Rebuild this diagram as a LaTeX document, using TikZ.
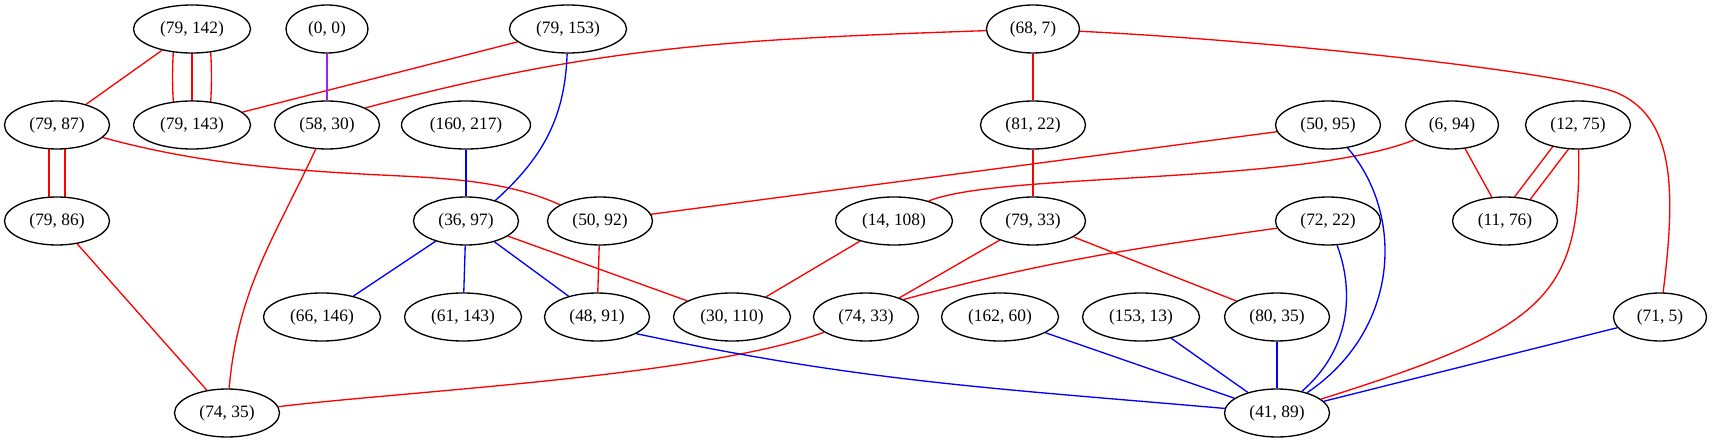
\documentclass[tikz,border=0pt]{standalone}
\usepackage{fontspec}
\setmainfont{Liberation Serif}
\usetikzlibrary{shapes.geometric,backgrounds}
\definecolor{gvpurple}{HTML}{A020F0}
\begin{document}
\begin{tikzpicture}[x=1pt,y=1pt,
  nd/.style={ellipse,draw,line width=1.33pt,fill=white,minimum height=48pt,inner sep=0pt,font=\fontsize{17.4}{20}\selectfont},
  wsix/.style={nd,minimum width=82pt},
  wseven/.style={nd,minimum width=93pt},
  weight/.style={nd,minimum width=105pt},
  wnine/.style={nd,minimum width=117pt},
  wten/.style={nd,minimum width=129pt},
  re/.style={draw=red,line width=1.33pt},
  be/.style={draw=blue,line width=1.33pt},
  pe/.style={draw=gvpurple,line width=1.33pt}]
\useasboundingbox (0,0) rectangle (1713,-443);
% rank 0
\node[wnine]  (a79142) at (192,-29) {(79, 142)};
\node[wsix]   (a00)    at (327,-29) {(0, 0)};
\node[wnine]  (a79153) at (568,-29) {(79, 153)};
\node[wseven] (a687)   at (1033,-29) {(68, 7)};
% rank 1
\node[weight] (a7987)   at (57,-125) {(79, 87)};
\node[wnine]  (a79143)  at (192,-125) {(79, 143)};
\node[weight] (a5830)   at (327,-125) {(58, 30)};
\node[wten]   (a160217) at (466,-125) {(160, 217)};
\node[weight] (a8122)   at (1033,-125) {(81, 22)};
\node[weight] (a5095)   at (1328,-125) {(50, 95)};
\node[wseven] (a694)    at (1452,-125) {(6, 94)};
\node[weight] (a1275)   at (1578,-125) {(12, 75)};
% rank 2
\node[weight] (a7986)  at (57,-221) {(79, 86)};
\node[weight] (a3697)  at (466,-221) {(36, 97)};
\node[weight] (a5092)  at (600,-221) {(50, 92)};
\node[wnine]  (a14108) at (894,-221) {(14, 108)};
\node[weight] (a7933)  at (1033,-221) {(79, 33)};
\node[weight] (a7222)  at (1328,-221) {(72, 22)};
\node[weight] (a1176)  at (1505,-221) {(11, 76)};
% rank 3
\node[wnine]  (a66146) at (322,-317) {(66, 146)};
\node[wnine]  (a61143) at (463,-317) {(61, 143)};
\node[weight] (a4891)  at (597,-317) {(48, 91)};
\node[wnine]  (a30110) at (732,-317) {(30, 110)};
\node[weight] (a7433)  at (866,-317) {(74, 33)};
\node[wnine]  (a16260) at (1000,-317) {(162, 60)};
\node[wnine]  (a15313) at (1141,-317) {(153, 13)};
\node[weight] (a8035)  at (1277,-317) {(80, 35)};
\node[wseven] (a715)   at (1660,-317) {(71, 5)};
% rank 4
\node[weight] (a7435) at (227,-413) {(74, 35)};
\node[weight] (a4189) at (1277,-413) {(41, 89)};

\begin{scope}[on background layer]
% red edges
\draw[re] (a79142) -- (a7987);
\draw[re] (a79142.center) -- (a79143.center);
\draw[re] ([xshift=-17]a79142.center) to[bend right=5] ([xshift=-17]a79143.center);
\draw[re] ([xshift=17]a79142.center) to[bend left=5] ([xshift=17]a79143.center);
\draw[re] (a79153) -- (a79143);
\draw[re] (a687.182) to[out=182,in=15] (a5830.24);
\draw[re] (a687) -- (a8122);
\draw[re] (a687) .. controls (1280,-41) and (1559,-72) .. (1615,-92)
                 .. controls (1675,-116) and (1676,-190) .. (a715);
\draw[re] ([xshift=-8]a7987.center) -- ([xshift=-8]a7986.center);
\draw[re] ([xshift=8]a7987.center) -- ([xshift=8]a7986.center);
\draw[re] (a7987) .. controls (196,-163) and (281,-170) .. (381,-175)
                  .. controls (441,-178) and (506,-180) .. (a5092.158);
\draw[re] (a5830) to[out=-115,in=85] (a7435);
\draw[re] (a8122) -- (a7933);
\draw[re] (a5095) -- (a5092);
\draw[re] (a694) .. controls (1300,-185) and (1000,-172) .. (a14108.30);
\draw[re] (a694) -- (a1176);
\draw[re] ([shift={(5.6,-4.2)}]a1275.center) -- ([shift={(5.6,-4.2)}]a1176.center);
\draw[re] ([shift={(-5.6,4.2)}]a1275.center) -- ([shift={(-5.6,4.2)}]a1176.center);
\draw[re] (a1275) .. controls (1582,-300) and (1540,-330) .. (a4189);
\draw[re] (a7986) -- (a7435);
\draw[re] (a3697) -- (a30110);
\draw[re] (a5092) -- (a4891);
\draw[re] (a14108) -- (a30110);
\draw[re] (a7933) -- (a7433);
\draw[re] (a7933) -- (a8035);
\draw[re] (a7222) to[out=188,in=15] (a7433.25);
\draw[re] (a7433) to[out=200,in=7,looseness=0.6] (a7435);
% blue edges
\draw[be] (a79153) to[out=-92,in=42] (a3697.35);
\draw[be] (a160217) -- (a3697);
\draw[be] (a5095) .. controls (1405,-215) and (1400,-330) .. (a4189);
\draw[be] (a3697) -- (a66146);
\draw[be] (a3697) -- (a61143);
\draw[be] (a3697) -- (a4891);
\draw[be] (a7222) .. controls (1352,-285) and (1355,-345) .. (a4189);
\draw[be] (a4891.-23) to[out=-12,in=175] (a4189);
\draw[be] (a16260) -- (a4189);
\draw[be] (a15313) -- (a4189);
\draw[be] (a8035) -- (a4189);
\draw[be] (a715) -- (a4189);
% purple edge
\draw[pe] (a00) -- (a5830);
\end{scope}
\end{tikzpicture}
\end{document}
